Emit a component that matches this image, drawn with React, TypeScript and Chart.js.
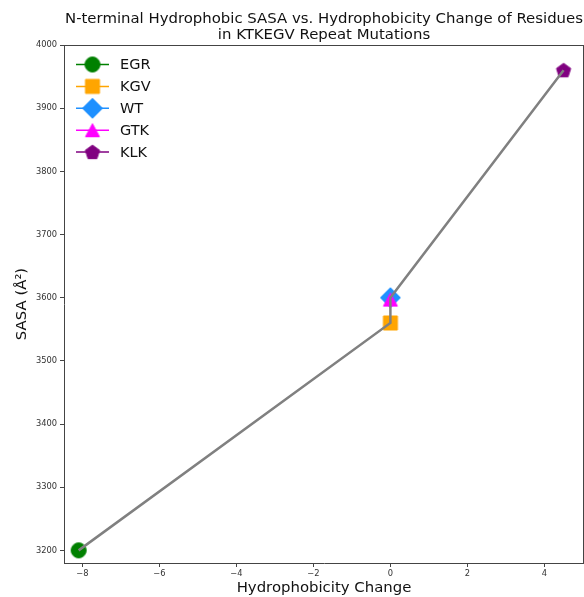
import { useEffect, useRef } from 'react';
import { Chart, registerables } from 'chart.js';

Chart.register(...registerables);

// Mutation variants and their measured values
const seriesNames = ['EGR', 'KGV', 'WT', 'GTK', 'KLK'];
const hydrophobicityChange = [-8.1, 0, 0, 0, 4.5];
const sasaValues = [3200, 3560, 3600, 3597, 3960];
const seriesColors = ['#008000', '#FFA500', '#1E90FF', '#FF00FF', '#800080'];
const markerShapes = ['circle', 'square', 'diamond', 'triangle', 'pentagon'];

// Order in which the grey trend line visits the variants
const trendOrder = ['EGR', 'KGV', 'GTK', 'WT', 'KLK'];

const xTickValues = [-8, -6, -4, -2, 0, 2, 4];
const yTickValues = [3200, 3300, 3400, 3500, 3600, 3700, 3800, 3900, 4000];

const titleLines = [
  'N-terminal Hydrophobic SASA vs. Hydrophobicity Change of Residues',
  'in KTKEGV Repeat Mutations',
];
const xAxisTitle = 'Hydrophobicity Change';
const yAxisTitle = 'SASA (Å²)';

const FONT = '"DejaVu Sans", "Liberation Sans", sans-serif';

function makeMarker(shape: string, color: string): HTMLCanvasElement {
  const c = document.createElement('canvas');
  c.width = 26;
  c.height = 26;
  const g = c.getContext('2d')!;
  const cx = 13;
  const cy = 13;
  g.fillStyle = color;
  g.strokeStyle = color;
  g.lineWidth = 1;
  g.beginPath();
  if (shape === 'circle') {
    g.arc(cx, cy, 7.5, 0, Math.PI * 2);
  } else if (shape === 'square') {
    g.rect(cx - 7, cy - 7, 14, 14);
  } else if (shape === 'diamond') {
    g.moveTo(cx, cy - 10);
    g.lineTo(cx + 10, cy);
    g.lineTo(cx, cy + 10);
    g.lineTo(cx - 10, cy);
  } else if (shape === 'triangle') {
    g.moveTo(cx, cy - 6.5);
    g.lineTo(cx + 7, cy + 6.5);
    g.lineTo(cx - 7, cy + 6.5);
  } else {
    const r = 7.5;
    for (let i = 0; i < 5; i++) {
      const a = -Math.PI / 2 + (i * 2 * Math.PI) / 5;
      const px = cx + r * Math.cos(a);
      const py = cy + 0.5 + r * Math.sin(a);
      if (i === 0) g.moveTo(px, py);
      else g.lineTo(px, py);
    }
  }
  g.closePath();
  g.fill();
  g.stroke();
  return c;
}

const fmtTick = (v: number) => (v < 0 ? '\u2212' + Math.abs(v) : String(v));

export default function App() {
  const canvasRef = useRef<HTMLCanvasElement | null>(null);

  useEffect(() => {
    const canvas = canvasRef.current;
    if (!canvas) return;

    const markers = seriesNames.map((_, i) => makeMarker(markerShapes[i], seriesColors[i]));

    const trendPoints = trendOrder.map((name) => {
      const i = seriesNames.indexOf(name);
      return { x: hydrophobicityChange[i], y: sasaValues[i] };
    });

    // later series sit above earlier ones; the trend line sits above all markers
    const markerSets = seriesNames.map((name, i) => ({
      label: name,
      data: [{ x: hydrophobicityChange[i], y: sasaValues[i] }],
      pointStyle: markers[i] as any,
      pointRadius: 9,
      backgroundColor: seriesColors[i],
      borderColor: seriesColors[i],
      showLine: false,
      order: seriesNames.length - i,
    }));

    const decorations = {
      id: 'decorations',
      afterDraw(chart: Chart) {
        const ctx = chart.ctx;
        const area = chart.chartArea;
        ctx.save();

        // frame top and right
        ctx.strokeStyle = '#444';
        ctx.lineWidth = 1;
        ctx.beginPath();
        ctx.moveTo(area.left, area.top + 0.5);
        ctx.lineTo(area.right, area.top + 0.5);
        ctx.moveTo(area.right - 0.5, area.top);
        ctx.lineTo(area.right - 0.5, area.bottom);
        ctx.stroke();

        const midX = (area.left + area.right) / 2;
        const midY = (area.top + area.bottom) / 2;

        // title
        ctx.fillStyle = '#111';
        ctx.textAlign = 'center';
        ctx.textBaseline = 'alphabetic';
        ctx.font = `14.9px ${FONT}`;
        ctx.fillText(titleLines[0], midX, 22.5);
        ctx.fillText(titleLines[1], midX, 38.5);

        // axis titles
        ctx.font = `14.9px ${FONT}`;
        ctx.fillText(xAxisTitle, midX, 592);
        ctx.save();
        ctx.translate(22, midY);
        ctx.rotate(-Math.PI / 2);
        ctx.textBaseline = 'middle';
        ctx.fillText(yAxisTitle, 0, 0);
        ctx.restore();

        // legend
        const lx0 = area.left + 12;
        const lx1 = area.left + 45;
        const mx = (lx0 + lx1) / 2;
        seriesNames.forEach((name, i) => {
          const y = area.top + 19.5 + i * 21.9;
          ctx.strokeStyle = seriesColors[i];
          ctx.lineWidth = 1.5;
          ctx.beginPath();
          ctx.moveTo(lx0, y);
          ctx.lineTo(lx1, y);
          ctx.stroke();
          const m = markers[i];
          ctx.drawImage(m, mx - m.width / 2, y - m.height / 2);
          ctx.fillStyle = '#111';
          ctx.textAlign = 'left';
          ctx.textBaseline = 'middle';
          ctx.font = `14.5px ${FONT}`;
          ctx.fillText(name, area.left + 56, y + 1);
        });

        ctx.restore();
      },
    };

    const chart = new Chart(canvas, {
      type: 'scatter',
      data: {
        datasets: [
          {
            label: 'trend',
            data: trendPoints,
            showLine: true,
            borderColor: '#808080',
            borderWidth: 2.5,
            pointRadius: 0,
            order: 0,
          } as any,
          ...markerSets,
        ],
      },
      options: {
        responsive: false,
        animation: false,
        layout: { padding: { top: 45, left: 0, right: 16, bottom: 0 } },
        plugins: {
          legend: { display: false },
          title: { display: false },
          tooltip: { enabled: false },
        },
        scales: {
          x: {
            type: 'linear',
            min: -8.48,
            max: 5.03,
            afterFit: (s: any) => {
              s.height = 34;
            },
            afterBuildTicks: (s: any) => {
              s.ticks = xTickValues.map((v) => ({ value: v }));
            },
            grid: { drawOnChartArea: false, drawTicks: true, tickLength: 4, color: '#444' },
            border: { display: true, color: '#444', width: 1 },
            ticks: {
              autoSkip: false,
              maxRotation: 0,
              padding: 2,
              color: '#333',
              font: { family: FONT, size: 8.3 },
              callback: (v: any) => fmtTick(Number(v)),
            },
          },
          y: {
            type: 'linear',
            min: 3180,
            max: 4000,
            afterFit: (s: any) => {
              s.width = 64;
            },
            afterBuildTicks: (s: any) => {
              s.ticks = yTickValues.map((v) => ({ value: v }));
            },
            grid: { drawOnChartArea: false, drawTicks: true, tickLength: 4, color: '#444' },
            border: { display: true, color: '#444', width: 1 },
            ticks: {
              autoSkip: false,
              padding: 3,
              color: '#333',
              font: { family: FONT, size: 8.3 },
              callback: (v: any) => String(v),
            },
          },
        },
      },
      plugins: [decorations],
    });

    return () => chart.destroy();
  }, []);

  return (
    <div
      style={{
        position: 'fixed',
        left: 0,
        top: 0,
        width: 584,
        height: 597,
        overflow: 'hidden',
        background: '#fff',
      }}
    >
      <canvas ref={canvasRef} width={600} height={597} style={{ width: 600, height: 597, display: 'block' }} />
    </div>
  );
}
